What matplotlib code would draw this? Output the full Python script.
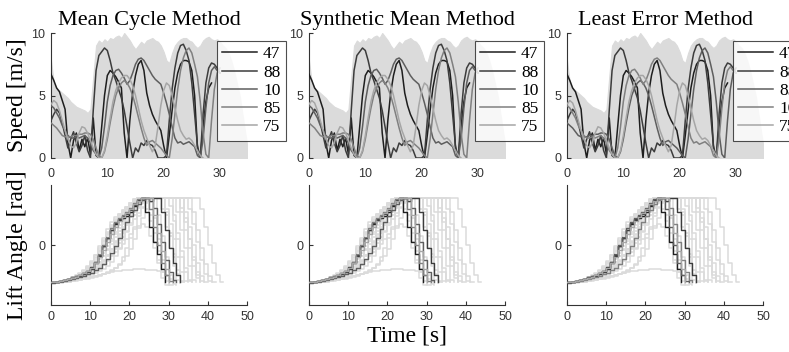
import numpy as np
import matplotlib
matplotlib.use("Agg")
import matplotlib.pyplot as plt

# sample interval of the recorded signals [s]
DT_SPEED = 0.5
DT_ANGLE = 1.0

titles = ["Mean Cycle Method", "Synthetic Mean Method", "Least Error Method"]
legend_orders = [["47", "88", "10", "85", "75"],
                 ["47", "88", "10", "85", "75"],
                 ["47", "88", "85", "10", "75"]]
highlight_colors = ["#1e1e1e", "#3c3c3c", "#5e5e5e", "#808080", "#a6a6a6"]
grey = "#dbdbdb"

# upper envelope of all trials (speed, m/s), every 0.5 s
speed_all_upper = [7.8, 6.0, 5.6, 5.4, 5.2, 5.0, 4.8, 4.5, 4.3, 4.1, 4.0, 3.9, 3.8, 3.6, 3.9,
                   6.5, 9.0, 9.4, 9.2, 9.5, 9.3, 9.6, 9.5, 9.7, 9.8, 9.6, 10.0, 9.7, 9.4, 9.0,
                   8.7, 9.0, 9.3, 9.1, 9.4, 9.5, 9.6, 9.4, 9.3, 9.0, 8.5, 7.8, 7.6, 8.4, 9.0,
                   9.3, 9.5, 9.6, 9.6, 9.4, 9.3, 9.0, 8.8, 9.0, 9.4, 9.6, 9.7, 9.5, 9.4, 9.5,
                   9.3, 9.0, 8.8, 8.4, 7.8, 7.0, 6.0, 5.0, 3.5, 2.0, 0.5]

# highlighted trials, speed every 0.5 s
speed = {
    "47": [6.7, 6.2, 5.6, 5.3, 4.6, 3.9, 1.2, 0.0, 1.4, 2.0, 0.6, 1.5, 0.9, 1.6, 0.3, 3.2,
           0.2, 0.0, 2.5, 5.0, 6.6, 7.0, 6.8, 6.5, 6.1, 5.6, 2.0, 0.0, 3.0, 5.2, 6.6, 7.5,
           7.8, 7.0, 5.2, 4.2, 3.5, 3.0, 2.6, 2.2, 1.0, 0.0, 1.8, 3.8, 5.6, 6.8, 7.5, 7.8,
           7.8, 7.7, 7.0, 5.0, 0.8, 0.0, 2.5, 4.5, 5.6, 6.0],
    "88": [3.0, 3.5, 3.9, 3.6, 2.8, 1.8, 0.8, 1.5, 2.1, 1.2, 0.5, 1.0, 1.8, 0.6, 0.0, 3.8,
           7.0, 8.2, 8.5, 8.8, 8.6, 7.8, 6.8, 6.2, 5.5, 4.8, 3.8, 2.5, 1.2, 0.0, 0.8, 0.5,
           1.2, 1.0, 1.4, 1.1, 1.0, 0.6, 0.0, 0.0, 0.0, 0.2, 3.0, 5.5, 7.2, 8.4, 9.0, 9.1,
           8.6, 7.8, 6.0, 3.5, 1.0, 0.0, 3.5, 6.0, 7.2, 7.6, 7.5, 7.2, 6.8],
    "10": [4.2, 4.0, 3.6, 3.2, 2.6, 2.2, 1.8, 1.6, 1.6, 1.7, 1.6, 1.7, 1.8, 1.6, 1.2, 0.6,
           0.3, 0.0, 0.8, 2.5, 4.5, 5.8, 6.6, 7.0, 7.1, 6.8, 6.4, 5.9, 6.2, 6.8, 7.5, 7.9,
           8.0, 7.8, 7.4, 7.0, 6.6, 6.3, 6.1, 5.9, 5.2, 4.4, 3.5, 2.5, 1.6, 1.2, 1.3, 1.1,
           1.2, 1.3, 1.1, 0.9, 0.2, 0.0, 1.5, 4.0, 6.0, 7.0, 7.3, 7.0, 6.8],
    "85": [2.8, 2.6, 2.4, 2.1, 1.8, 1.7, 1.7, 1.7, 1.8, 1.8, 1.9, 1.9, 2.0, 2.0, 1.9, 1.5,
           0.8, 0.2, 0.0, 0.5, 1.5, 2.8, 4.0, 5.0, 5.6, 6.0, 6.2, 6.0, 5.6, 5.0, 4.2, 3.3,
           2.4, 1.6, 1.0, 1.3, 1.4, 1.2, 1.0, 0.8, 0.5, 0.2, 0.0, 1.5, 3.5, 5.5, 7.0, 8.0,
           8.6, 8.8, 8.4, 7.5, 6.5, 4.5, 2.0, 0.3, 0.0, 3.0, 5.5, 6.8, 7.2],
    "75": [4.3, 4.6, 4.4, 3.8, 3.0, 2.2, 1.5, 1.0, 0.8, 1.2, 2.0, 2.5, 2.4, 2.0, 1.4, 0.8,
           0.3, 0.0, 0.0, 0.6, 1.8, 3.2, 4.5, 5.4, 6.0, 6.4, 6.6, 6.6, 6.3, 5.8, 5.0, 4.0,
           3.0, 2.2, 1.6, 1.0, 0.5, 1.0, 2.5, 4.2, 5.4, 6.0, 5.8, 5.0, 4.0, 3.0, 2.2, 1.8,
           1.5, 1.6, 1.4, 1.0, 0.6, 0.2, 0.0],
}

# lift angle of all trials [rad], every 1 s
angle_grey = [
    [-0.64, -0.63, -0.62, -0.60, -0.58, -0.56, -0.53, -0.50, -0.46, -0.40, -0.32, -0.22, -0.10,
     0.05, 0.20, 0.32, 0.42, 0.50, 0.55, 0.60, 0.68, 0.74, 0.78, 0.78, 0.78, 0.50, 0.20, -0.10,
     -0.40, -0.62],
    [-0.62, -0.62, -0.60, -0.60, -0.58, -0.55, -0.52, -0.50, -0.47, -0.42, -0.36, -0.28, -0.18,
     -0.05, 0.08, 0.20, 0.32, 0.42, 0.50, 0.58, 0.66, 0.72, 0.78, 0.78, 0.78, 0.78, 0.78, 0.78,
     0.78, 0.60, 0.35, 0.10, -0.20, -0.45, -0.60, -0.62],
    [-0.63, -0.62, -0.62, -0.61, -0.60, -0.58, -0.56, -0.54, -0.52, -0.50, -0.47, -0.44, -0.40,
     -0.34, -0.26, -0.16, -0.05, 0.08, 0.20, 0.34, 0.46, 0.58, 0.68, 0.75, 0.78, 0.78, 0.78,
     0.78, 0.78, 0.78, 0.78, 0.78, 0.78, 0.55, 0.25, -0.05, -0.35, -0.55, -0.62],
    [-0.64, -0.63, -0.62, -0.62, -0.61, -0.60, -0.58, -0.56, -0.53, -0.50, -0.46, -0.42, -0.36,
     -0.28, -0.18, -0.06, 0.06, 0.18, 0.30, 0.42, 0.52, 0.62, 0.70, 0.76, 0.78, 0.78, 0.78,
     0.78, 0.78, 0.78, 0.78, 0.78, 0.78, 0.78, 0.78, 0.78, 0.78, 0.78, 0.60, 0.30, 0.00, -0.30,
     -0.50, -0.62, -0.62],
    [-0.63, -0.63, -0.62, -0.62, -0.61, -0.60, -0.60, -0.58, -0.57, -0.55, -0.54, -0.52, -0.50,
     -0.48, -0.46, -0.45, -0.44, -0.43, -0.42, -0.42, -0.41, -0.40, -0.40, -0.40, -0.41, -0.42,
     -0.42, -0.43, -0.45, -0.50, -0.56, -0.60, -0.62],
    [-0.62, -0.62, -0.62, -0.61, -0.60, -0.60, -0.59, -0.58, -0.56, -0.55, -0.54, -0.52, -0.50,
     -0.48, -0.45, -0.42, -0.38, -0.32, -0.20, -0.05, 0.12, 0.30, 0.48, 0.62, 0.74, 0.78, 0.78,
     0.78, 0.78, 0.78, 0.78, 0.78, 0.55, 0.25, -0.05, -0.35, -0.58, -0.62],
    [-0.62, -0.61, -0.60, -0.58, -0.56, -0.54, -0.51, -0.48, -0.44, -0.38, -0.30, -0.20, -0.08,
     0.06, 0.18, 0.30, 0.40, 0.48, 0.55, 0.62, 0.70, 0.76, 0.78, 0.78, 0.78, 0.78, 0.78, 0.50,
     0.15, -0.20, -0.50, -0.65, -0.66],
    [-0.62, -0.62, -0.61, -0.60, -0.59, -0.57, -0.55, -0.53, -0.50, -0.47, -0.43, -0.38, -0.32,
     -0.25, -0.16, -0.06, 0.05, 0.16, 0.27, 0.38, 0.48, 0.57, 0.65, 0.72, 0.77, 0.78, 0.78,
     0.78, 0.78, 0.78, 0.78, 0.78, 0.78, 0.78, 0.78, 0.60, 0.35, 0.05, -0.25, -0.48, -0.60,
     -0.62],
    [-0.64, -0.63, -0.62, -0.60, -0.58, -0.55, -0.52, -0.48, -0.43, -0.37, -0.28, -0.16, -0.02,
     0.12, 0.26, 0.38, 0.46, 0.52, 0.58, 0.64, 0.70, 0.76, 0.78, 0.78, 0.70, 0.40, 0.05, -0.30,
     -0.55, -0.66, -0.66],
    [-0.62, -0.62, -0.61, -0.61, -0.60, -0.59, -0.57, -0.56, -0.54, -0.52, -0.50, -0.47, -0.44,
     -0.40, -0.35, -0.28, -0.18, -0.06, 0.08, 0.22, 0.36, 0.50, 0.62, 0.72, 0.78, 0.78, 0.78,
     0.78, 0.78, 0.50, 0.15, -0.20, -0.48, -0.62, -0.62],
    [-0.63, -0.62, -0.62, -0.61, -0.60, -0.58, -0.56, -0.54, -0.51, -0.48, -0.44, -0.40, -0.34,
     -0.27, -0.19, -0.10, 0.00, 0.12, 0.24, 0.36, 0.47, 0.57, 0.66, 0.73, 0.78, 0.78, 0.78,
     0.78, 0.78, 0.78, 0.78, 0.78, 0.78, 0.78, 0.55, 0.30, 0.00, -0.30, -0.52, -0.62, -0.62],
    [-0.62, -0.61, -0.60, -0.59, -0.57, -0.55, -0.53, -0.50, -0.47, -0.43, -0.38, -0.32, -0.24,
     -0.14, -0.02, 0.10, 0.22, 0.34, 0.45, 0.55, 0.64, 0.72, 0.77, 0.78, 0.78, 0.78, 0.78, 0.78,
     0.78, 0.78, 0.78, 0.50, 0.20, -0.10, -0.38, -0.58, -0.62],
    [-0.63, -0.62, -0.61, -0.60, -0.58, -0.56, -0.54, -0.52, -0.49, -0.46, -0.42, -0.36, -0.28,
     -0.18, -0.06, 0.06, 0.18, 0.28, 0.38, 0.46, 0.54, 0.62, 0.70, 0.76, 0.78, 0.78, 0.78, 0.78,
     0.60, 0.30, -0.05, -0.35, -0.58, -0.63],
    [-0.62, -0.62, -0.61, -0.60, -0.59, -0.58, -0.56, -0.54, -0.52, -0.49, -0.46, -0.42, -0.38,
     -0.32, -0.25, -0.16, -0.06, 0.04, 0.14, 0.24, 0.34, 0.44, 0.54, 0.64, 0.72, 0.78, 0.78,
     0.78, 0.78, 0.78, 0.78, 0.78, 0.78, 0.62, 0.38, 0.10, -0.20, -0.45, -0.60, -0.62],
    [-0.64, -0.63, -0.62, -0.61, -0.59, -0.57, -0.54, -0.51, -0.47, -0.42, -0.35, -0.25, -0.12,
     0.02, 0.16, 0.28, 0.38, 0.46, 0.53, 0.60, 0.67, 0.73, 0.78, 0.78, 0.78, 0.78, 0.45, 0.10,
     -0.25, -0.52, -0.66, -0.67],
    [-0.63, -0.62, -0.62, -0.61, -0.60, -0.59, -0.57, -0.55, -0.52, -0.49, -0.45, -0.40, -0.34,
     -0.26, -0.17, -0.07, 0.03, 0.14, 0.25, 0.36, 0.46, 0.55, 0.63, 0.70, 0.76, 0.78, 0.78,
     0.78, 0.78, 0.78, 0.78, 0.78, 0.78, 0.78, 0.78, 0.78, 0.55, 0.25, -0.05, -0.32, -0.52,
     -0.62, -0.62],
    [-0.63, -0.62, -0.61, -0.60, -0.59, -0.57, -0.55, -0.53, -0.50, -0.47, -0.44, -0.40, -0.36,
     -0.31, -0.25, -0.19, -0.12, -0.05, 0.02, 0.10, 0.18, 0.26, 0.32, 0.35, 0.30, 0.15, -0.05,
     -0.25, -0.45, -0.60, -0.63],
    [-0.62, -0.61, -0.60, -0.58, -0.56, -0.53, -0.50, -0.46, -0.41, -0.35, -0.27, -0.17, -0.05,
     0.08, 0.21, 0.33, 0.43, 0.51, 0.58, 0.64, 0.70, 0.75, 0.78, 0.78, 0.78, 0.78, 0.78, 0.78,
     0.78, 0.78, 0.65, 0.40, 0.10, -0.20, -0.45, -0.60, -0.62],
    [-0.62, -0.62, -0.62, -0.61, -0.61, -0.60, -0.59, -0.58, -0.57, -0.56, -0.55, -0.53, -0.51,
     -0.49, -0.46, -0.43, -0.39, -0.34, -0.27, -0.18, -0.06, 0.10, 0.28, 0.45, 0.60, 0.72, 0.78,
     0.78, 0.78, 0.55, 0.20, -0.15, -0.42, -0.60, -0.62],
    [-0.64, -0.63, -0.62, -0.61, -0.60, -0.58, -0.56, -0.53, -0.50, -0.46, -0.41, -0.35, -0.28,
     -0.19, -0.09, 0.02, 0.13, 0.24, 0.35, 0.45, 0.54, 0.62, 0.69, 0.75, 0.78, 0.78, 0.78, 0.78,
     0.78, 0.78, 0.78, 0.78, 0.78, 0.78, 0.45, 0.10, -0.25, -0.50, -0.62],
]

# highlighted trials, lift angle every 1 s
angle = {
    "47": [-0.62, -0.62, -0.60, -0.58, -0.57, -0.55, -0.53, -0.51, -0.48, -0.45, -0.40, -0.30,
           -0.18, -0.02, 0.12, 0.25, 0.35, 0.42, 0.45, 0.48, 0.55, 0.65, 0.75, 0.78, 0.55, 0.30,
           0.05, -0.15, -0.40, -0.62],
    "88": [-0.63, -0.62, -0.60, -0.58, -0.56, -0.54, -0.52, -0.50, -0.47, -0.43, -0.37, -0.28,
           -0.16, -0.02, 0.12, 0.25, 0.36, 0.44, 0.48, 0.52, 0.58, 0.66, 0.74, 0.78, 0.78, 0.74,
           0.78, 0.78, 0.55, 0.25, -0.05, -0.30, -0.50, -0.62],
    "10": [-0.62, -0.62, -0.61, -0.60, -0.58, -0.57, -0.55, -0.53, -0.51, -0.49, -0.46, -0.42,
           -0.38, -0.32, -0.24, -0.14, -0.02, 0.12, 0.26, 0.38, 0.48, 0.58, 0.68, 0.75, 0.78,
           0.78, 0.62, 0.35, 0.05, -0.25, -0.45, -0.58, -0.62],
    "85": [-0.62, -0.61, -0.60, -0.58, -0.56, -0.54, -0.52, -0.50, -0.47, -0.44, -0.38, -0.28,
           -0.15, 0.00, 0.14, 0.28, 0.38, 0.45, 0.50, 0.55, 0.62, 0.70, 0.76, 0.78, 0.78, 0.60,
           0.30, 0.00, -0.30, -0.50, -0.60, -0.62],
    "75": [-0.62, -0.61, -0.60, -0.59, -0.57, -0.55, -0.53, -0.50, -0.47, -0.43, -0.38, -0.30,
           -0.20, -0.08, 0.05, 0.18, 0.30, 0.40, 0.47, 0.53, 0.60, 0.68, 0.74, 0.78, 0.78, 0.78,
           0.50, 0.20, -0.10, -0.40, -0.62],
}

serif = ["Liberation Serif", "DejaVu Serif"]
plt.rcParams["font.family"] = ["Liberation Sans", "DejaVu Sans"]
plt.rcParams["axes.linewidth"] = 0.8
tick_col = "#333333"

fig = plt.figure(figsize=(7.89, 3.52), dpi=100)
W, H = 789.0, 352.0
lefts = [51, 309, 567]


def style_axes(ax, show_bottom):
    for s in ["top", "right"]:
        ax.spines[s].set_visible(False)
    ax.spines["left"].set_color(tick_col)
    ax.spines["bottom"].set_color(tick_col)
    ax.spines["bottom"].set_visible(show_bottom)
    ax.tick_params(direction="in", length=3, width=0.8, colors=tick_col, labelsize=9,
                   pad=4)
    if not show_bottom:
        ax.tick_params(axis="x", length=0, pad=7)


for k in range(3):
    # speed
    ax = fig.add_axes([lefts[k] / W, 1 - 158 / H, 196 / W, 125 / H])
    t_env = np.arange(len(speed_all_upper)) * DT_SPEED
    ax.fill_between(t_env, 0, speed_all_upper, color=grey, lw=0.8, zorder=1)
    for name, col in zip(legend_orders[k], highlight_colors):
        v = speed[name]
        t = np.arange(len(v)) * DT_SPEED
        ax.plot(t, v, color=col, lw=1.1, label=name, zorder=3)
    ax.set_xlim(0, 34.8)
    ax.set_ylim(0, 10)
    ax.set_xticks([0, 10, 20, 30])
    ax.set_yticks([0, 5, 10])
    style_axes(ax, False)
    ax.set_title(titles[k], fontfamily=serif, fontsize=16, pad=6)
    leg = ax.legend(loc="upper left", bbox_to_anchor=(166 / 196, 117 / 125),
                    borderaxespad=0, prop={"family": serif, "size": 12.5},
                    frameon=True, fancybox=False, edgecolor="#222222",
                    handlelength=2.0, handletextpad=0.35, labelspacing=0.12,
                    borderpad=0.3)
    leg.get_frame().set_linewidth(0.8)
    leg.set_zorder(5)
    if k == 0:
        ax.set_ylabel("Speed [m/s]", fontfamily=serif, fontsize=17)
        ax.yaxis.set_label_coords(-23 / 196, 0.5)

    # lift angle
    ax2 = fig.add_axes([lefts[k] / W, 1 - 305 / H, 196 / W, 120 / H])
    for a in angle_grey:
        t = np.arange(len(a)) * DT_ANGLE
        ax2.plot(t, a, color=grey, lw=1.1, drawstyle="steps-post", zorder=1)
    for name, col in zip(legend_orders[k], highlight_colors):
        a = angle[name]
        t = np.arange(len(a)) * DT_ANGLE
        ax2.plot(t, a, color=col, lw=1.0, drawstyle="steps-post", zorder=3)
    ax2.set_xlim(0, 50)
    ax2.set_ylim(-1, 1)
    ax2.set_xticks([0, 10, 20, 30, 40, 50])
    ax2.set_yticks([0])
    style_axes(ax2, True)
    if k == 0:
        ax2.set_ylabel("Lift Angle [rad]", fontfamily=serif, fontsize=17)
        ax2.yaxis.set_label_coords(-23 / 196, 0.5)
    if k == 1:
        ax2.set_xlabel("Time [s]", fontfamily=serif, fontsize=17, labelpad=2)

fig.savefig("out.png", dpi=100)
